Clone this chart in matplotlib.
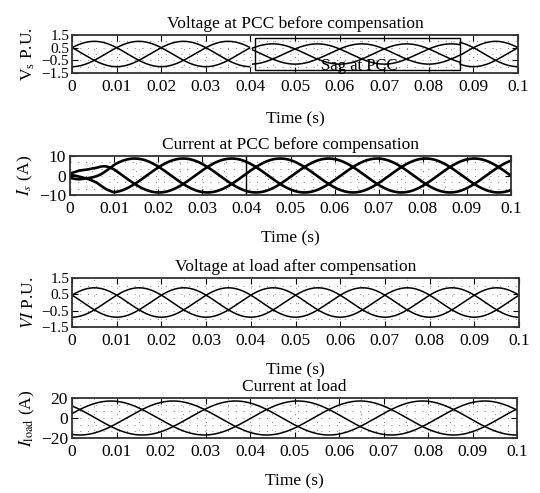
import numpy as np
import matplotlib
matplotlib.use("Agg")
import matplotlib.pyplot as plt
from matplotlib.patches import Rectangle

plt.rcParams['font.family'] = ['Liberation Serif', 'DejaVu Serif']
plt.rcParams['mathtext.fontset'] = 'stix'

# ---- values ----
titles = ["Voltage at PCC before compensation", "Current at PCC before compensation",
          "Voltage at load after compensation", "Current at load"]
ylabels = [r"$\mathregular{V_s}$ P.U.", r"$I_s$ (A)", r"$VI$ P.U.", r"$I_{\mathrm{load}}$ (A)"]
xticks = [0, 0.01, 0.02, 0.03, 0.04, 0.05, 0.06, 0.07, 0.08, 0.09, 0.1]
xticklabels = ["0", "0.01", "0.02", "0.03", "0.04", "0.05", "0.06", "0.07", "0.08", "0.09", "0.1"]
yticks = [[-1.5, -0.5, 0.5, 1.5], [-10, 0, 10], [-1.5, -0.5, 0.5, 1.5], [-20, 0, 20]]
ylims = [(-1.5, 1.5), (-10, 10), (-1.5, 1.5), (-20, 20)]

# waveform parameters per panel: period (s), peak, phase of phase-a (deg)
periods = [0.030, 0.033, 0.030, 0.042]
peaks = [1.0, 8.7, 0.9, 17.0]
phase_deg = [180, 200, 180, 165]

# voltage sag on panel 1
sag_start, sag_end = 0.0405, 0.087
sag_peak = 0.8
sag_box = (0.041, 0.087, -1.3, 1.25)   # x0, x1, y0, y1
sag_text = ("Sag at PCC", 0.0645, -0.95)

# start-up of source current (panel 2): envelope vs time
env_t = [0.0, 0.002, 0.004, 0.006, 0.008, 0.010]
env_v = [0.15, 0.3, 0.35, 0.5, 0.8, 1.0]

t = np.linspace(0, 0.1, 4000)
shift = [0, 120, 240]

W, H = 540, 493
fig = plt.figure(figsize=(W / 100, H / 100), dpi=100)
boxes = [(72, 35, 518, 73), (70, 156, 511, 195), (72, 278, 519, 327), (72, 398, 517, 438)]

for i in range(4):
    l, tp, r, b = boxes[i]
    ax = fig.add_axes([l / W, 1 - b / H, (r - l) / W, (b - tp) / H])
    w = 2 * np.pi / periods[i]
    for s in shift:
        ph = np.deg2rad(phase_deg[i] - s)
        if i == 0:
            y = peaks[0] * np.cos(w * t + ph)
            y = np.where((t >= sag_start) & (t <= sag_end), sag_peak * np.cos(w * t + ph), y)
            y = np.where((t > 0.0398) & (t < sag_start), np.nan, y)
            ax.plot(t, y, color='black', lw=1.1)
        elif i == 1:
            env = np.interp(t, env_t, env_v)
            y = peaks[1] * env * np.cos(w * t + ph)
            ax.plot(t, y, color='black', lw=1.9)
        else:
            y = peaks[i] * np.cos(w * t + ph)
            ax.plot(t, y, color='black', lw=1.1)

    if i == 0:
        x0, x1, y0, y1 = sag_box
        ax.add_patch(Rectangle((x0, y0), x1 - x0, y1 - y0, fill=False, ec='black', lw=1.0))
        ax.text(sag_text[1], sag_text[2], sag_text[0], ha='center', va='center', fontsize=12)
    if i == 1:
        ax.axvline(0.04, color='black', lw=1.0)

    ax.set_xlim(0, 0.1)
    ax.set_ylim(*ylims[i])
    ax.set_xticks(xticks)
    ax.set_xticklabels(xticklabels)
    ax.set_yticks(yticks[i])
    ax.set_xticks(np.arange(0, 0.1001, 0.005), minor=True)
    lo, hi = ylims[i]
    ax.set_yticks(np.linspace(lo, hi, 7)[1:-1], minor=True)
    ax.grid(True, which='both', color='gray', lw=0.7, linestyle=(0, (1, 7)))
    ax.tick_params(which='major', direction='in', top=True, right=True, length=4,
                   labelsize=12.5, pad=4)
    ax.tick_params(which='minor', length=0)
    if i in (0, 2):
        ax.tick_params(axis='y', labelsize=11, pad=2)
    else:
        ax.tick_params(axis='y', labelsize=12.5, pad=3)
    for sp in ax.spines.values():
        sp.set_linewidth(1.3)
        sp.set_color('#333333')
    ax.set_title(titles[i], fontsize=12.5, pad=5)
    ax.set_xlabel("Time (s)", fontsize=12.5, labelpad=12 if i == 0 else 10)
    ax.set_ylabel(ylabels[i], fontsize=12.5, labelpad=3)

fig.savefig("out.png", dpi=100)
